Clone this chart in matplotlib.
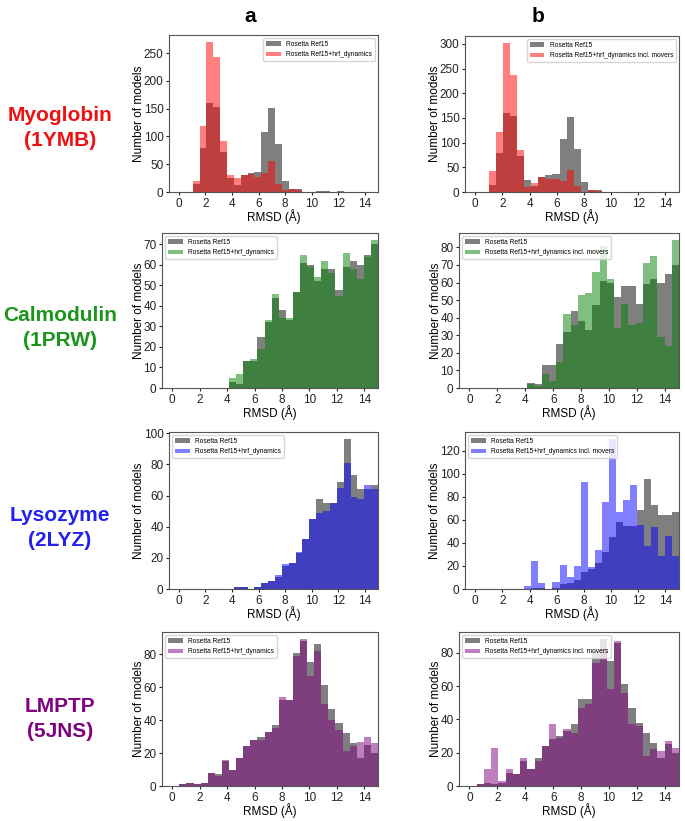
import numpy as np
import matplotlib
matplotlib.use("Agg")
import matplotlib.pyplot as plt
from matplotlib.ticker import MultipleLocator

plt.rcParams['font.family'] = ['Liberation Sans', 'DejaVu Sans']

# 29 bins between 0 and 15 A
bin_edges = np.linspace(0, 15, 30)

# counts per bin
myo_ref = [0, 0, 15, 80, 160, 153, 72, 25, 13, 31, 35, 36, 108, 151, 87, 20, 5, 5, 0, 0, 1, 1, 0, 1, 0, 0, 0, 0, 0]
myo_hrf = [0, 0, 20, 118, 269, 243, 91, 31, 26, 31, 32, 27, 35, 56, 15, 3, 5, 3, 0, 0, 0, 0, 0, 0, 0, 0, 0, 0, 0]
myo_mov = [0, 0, 42, 122, 301, 237, 85, 10, 18, 30, 27, 27, 22, 44, 12, 0, 5, 3, 0, 0, 0, 0, 0, 0, 0, 0, 0, 0, 0]

cal_ref = [0, 0, 0, 0, 0, 0, 0, 0, 3, 2, 13, 13, 25, 32, 44, 38, 33, 47, 61, 60, 52, 58, 58, 48, 59, 62, 60, 65, 70]
cal_hrf = [0, 0, 0, 0, 0, 0, 0, 0, 5, 7, 13, 14, 19, 33, 46, 34, 34, 47, 65, 59, 54, 62, 56, 45, 66, 58, 53, 64, 72]
cal_mov = [0, 0, 0, 0, 0, 0, 0, 0, 2, 1, 8, 4, 15, 42, 36, 53, 54, 66, 81, 62, 34, 48, 36, 37, 71, 75, 29, 24, 84]

lys_ref = [0, 0, 0, 0, 0, 0, 0, 0, 1, 1, 0, 1, 4, 5, 8, 15, 17, 23, 32, 45, 58, 55, 55, 69, 96, 73, 64, 64, 67]
lys_hrf = [0, 0, 0, 0, 0, 0, 0, 0, 1, 1, 0, 1, 4, 5, 9, 16, 17, 24, 32, 45, 49, 50, 55, 65, 81, 59, 58, 67, 64]
lys_mov = [0, 0, 0, 0, 0, 0, 0, 3, 24, 5, 0, 6, 21, 10, 20, 93, 19, 34, 76, 130, 67, 77, 90, 56, 37, 54, 29, 46, 29]

lmp_ref = [0, 1, 2, 1, 2, 8, 7, 15, 10, 17, 24, 28, 30, 33, 37, 52, 52, 81, 88, 75, 86, 61, 47, 38, 32, 26, 17, 25, 20]
lmp_hrf = [0, 1, 2, 1, 2, 8, 6, 16, 10, 17, 24, 28, 28, 33, 35, 54, 52, 79, 89, 67, 82, 50, 40, 34, 21, 24, 27, 30, 26]
lmp_mov = [0, 1, 10, 23, 3, 10, 7, 17, 10, 15, 24, 37, 29, 34, 32, 47, 49, 74, 82, 58, 87, 56, 37, 36, 18, 22, 21, 27, 23]

proteins = ['Myoglobin\n(1YMB)', 'Calmodulin\n(1PRW)', 'Lysozyme\n(2LYZ)', 'LMPTP\n(5JNS)']
colors = ['red', 'green', 'blue', 'purple']
label_colors = ['#ee1111', '#1a961a', '#2222ee', '#800080']
ref_counts = [myo_ref, cal_ref, lys_ref, lmp_ref]
hrf_counts = [[myo_hrf, myo_mov], [cal_hrf, cal_mov], [lys_hrf, lys_mov], [lmp_hrf, lmp_mov]]
hrf_labels = ['Rosetta Ref15+hrf_dynamics', 'Rosetta Ref15+hrf_dynamics incl. movers']
legend_locs = ['upper right', 'upper left', 'upper left', 'upper left']
y_steps = [[50, 50], [10, 10], [20, 20], [20, 20]]

W, H = 685, 821
# axes boxes in pixels: left, right, top, bottom
boxes = [
    [(169, 378, 35, 192), (465, 679, 36, 192)],
    [(162, 378, 233, 388), (459, 679, 233, 388)],
    [(169, 378, 432, 589), (465, 679, 432, 589)],
    [(162, 378, 632, 786), (459, 679, 632, 786)],
]
label_y = [128, 328, 528, 719]

fig = plt.figure(figsize=(W / 100, H / 100), dpi=100)
centers = (bin_edges[:-1] + bin_edges[1:]) / 2

for i in range(4):
    for j in range(2):
        l, r, t, b = boxes[i][j]
        ax = fig.add_axes([l / W, 1 - b / H, (r - l) / W, (b - t) / H])
        ax.hist(centers, bins=bin_edges, weights=ref_counts[i], color='k', alpha=0.5,
                label='Rosetta Ref15')
        ax.hist(centers, bins=bin_edges, weights=hrf_counts[i][j], color=colors[i], alpha=0.5,
                label=hrf_labels[j])
        ax.set_xlim(-0.75, 15)
        ax.set_xticks(range(0, 15, 2))
        ax.yaxis.set_major_locator(MultipleLocator(y_steps[i][j]))
        ax.tick_params(labelsize=8.5, length=2.5, pad=1.5, width=0.8, colors='#222222')
        for s in ax.spines.values():
            s.set_color('#555555')
        ax.set_xlabel('RMSD (Å)', fontsize=8.5, labelpad=0)
        ax.set_ylabel('Number of models', fontsize=8.5, labelpad=-1)
        ax.legend(loc=legend_locs[i], fontsize=4.8, handlelength=2.2)

    fig.text(60 / W, 1 - label_y[i] / H, proteins[i], ha='center', va='center',
             fontsize=15, fontweight='bold', color=label_colors[i], linespacing=1.45)

fig.text(250 / W, 1 - 16 / H, 'a', ha='center', va='center', fontsize=15, fontweight='bold')
fig.text(538 / W, 1 - 16 / H, 'b', ha='center', va='center', fontsize=15, fontweight='bold')

fig.savefig('out.png', dpi=100)
